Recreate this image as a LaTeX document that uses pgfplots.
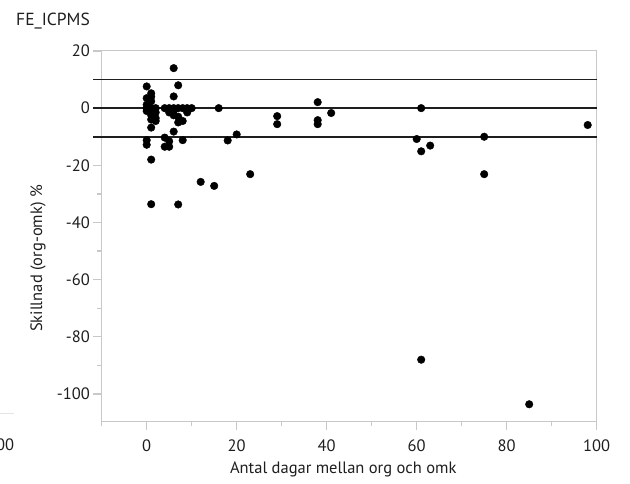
\documentclass[border=0pt]{standalone}
\usepackage{fontspec}
\setmainfont{PT Sans}
\usepackage{pgfplots}
\pgfplotsset{compat=1.18}

\definecolor{axgray}{RGB}{200,200,200}
\definecolor{reflinecol}{RGB}{30,30,30}
\definecolor{textcol}{RGB}{30,30,30}

% days between original and re-analysis vs. difference (%)
\pgfplotstableread{
x y
0 7.6
1 5.2
0 3.5
1 4
1 2.4
0 1.2
0 0
1 0
2 0
0 -1
1 -1.2
2 -1.5
1 -2.5
2 -3.5
1 -4
2 -4.5
1 -6.8
0 -11.2
0 -12.8
1 -18
1 -33.6
6 14
7 8
6 4.1
4 0
5 0
6 0
7 0
8 0
9 0
10 0
5 -1.5
6 -2.5
7 -3
8 -4.5
7 -5
9 -1.5
6 -1
6 -8.2
4 -10.3
5 -11.6
4 -13.5
5 -13.5
8 -11.2
7 -33.7
12 -25.8
15 -27.2
16 0
18 -11.3
20 -9.2
23 -23.1
29 -2.8
29 -5.6
38 2.1
38 -4.2
38 -5.6
41 -1.7
60 -10.8
61 0
61 -15.1
63 -13.1
61 -88
75 -10
75 -23.1
85 -103.6
98 -5.9
}\fedata

\begin{document}
\begin{tikzpicture}
\path[use as bounding box] (-101.7pt,-61.3pt) rectangle (528.3pt,421.7pt);
\begin{axis}[
  at={(0pt,0pt)}, anchor=south west,
  scale only axis, width=495pt, height=371pt,
  xmin=-10, xmax=100, ymin=-109.7, ymax=20.1,
  clip=false,
  axis line style={axgray, line width=1.3pt},
  every tick/.style={axgray, line width=1.3pt},
  tick align=outside,
  xtick={0,20,...,100},
  minor xtick={-10,10,30,50,70,90},
  ytick={-100,-80,...,20},
  minor ytick={-90,-70,...,10},
  major tick length=8.4pt,
  minor tick length=4.3pt,
  xtick pos=bottom, ytick pos=left,
  /pgf/number format/assume math mode=true,
  tick label style={font=\fontsize{16.5}{18}\selectfont, text=textcol},
  xticklabel style={yshift=-6pt},
  label style={font=\fontsize{16.5}{18}\selectfont, text=textcol},
  xlabel={Antal dagar mellan org och omk},
  xlabel style={at={(axis description cs:0.488,0)}, anchor=center, yshift=-47.3pt},
  ylabel={Skillnad (org-omk) \%},
  ylabel style={at={(axis description cs:0,0.44)}, anchor=center, yshift=63.7pt},
]
% reference lines at +10, 0 and -10 %
\addplot[reflinecol, line width=1.8pt] coordinates {(-11.87,10) (100,10)};
\addplot[reflinecol, line width=1.8pt] coordinates {(-11.87,0) (100,0)};
\addplot[reflinecol, line width=1.8pt] coordinates {(-11.87,-10) (100,-10)};
\addplot[only marks, mark=*, mark size=3.8pt, black] table[x=x, y=y] {\fedata};
\end{axis}
\node[anchor=west, font=\fontsize{17.5}{20}\selectfont, text=textcol] at (-89pt,401pt) {FE\_ICPMS};
% edge of the neighbouring panel
\node[anchor=east, font=\fontsize{16.5}{18}\selectfont, text=textcol] at (-84pt,-23.3pt) {100};
\draw[black!10, line width=0.8pt] (-101.7pt,8.7pt) -- (-88pt,8.7pt);
\end{tikzpicture}
\end{document}
